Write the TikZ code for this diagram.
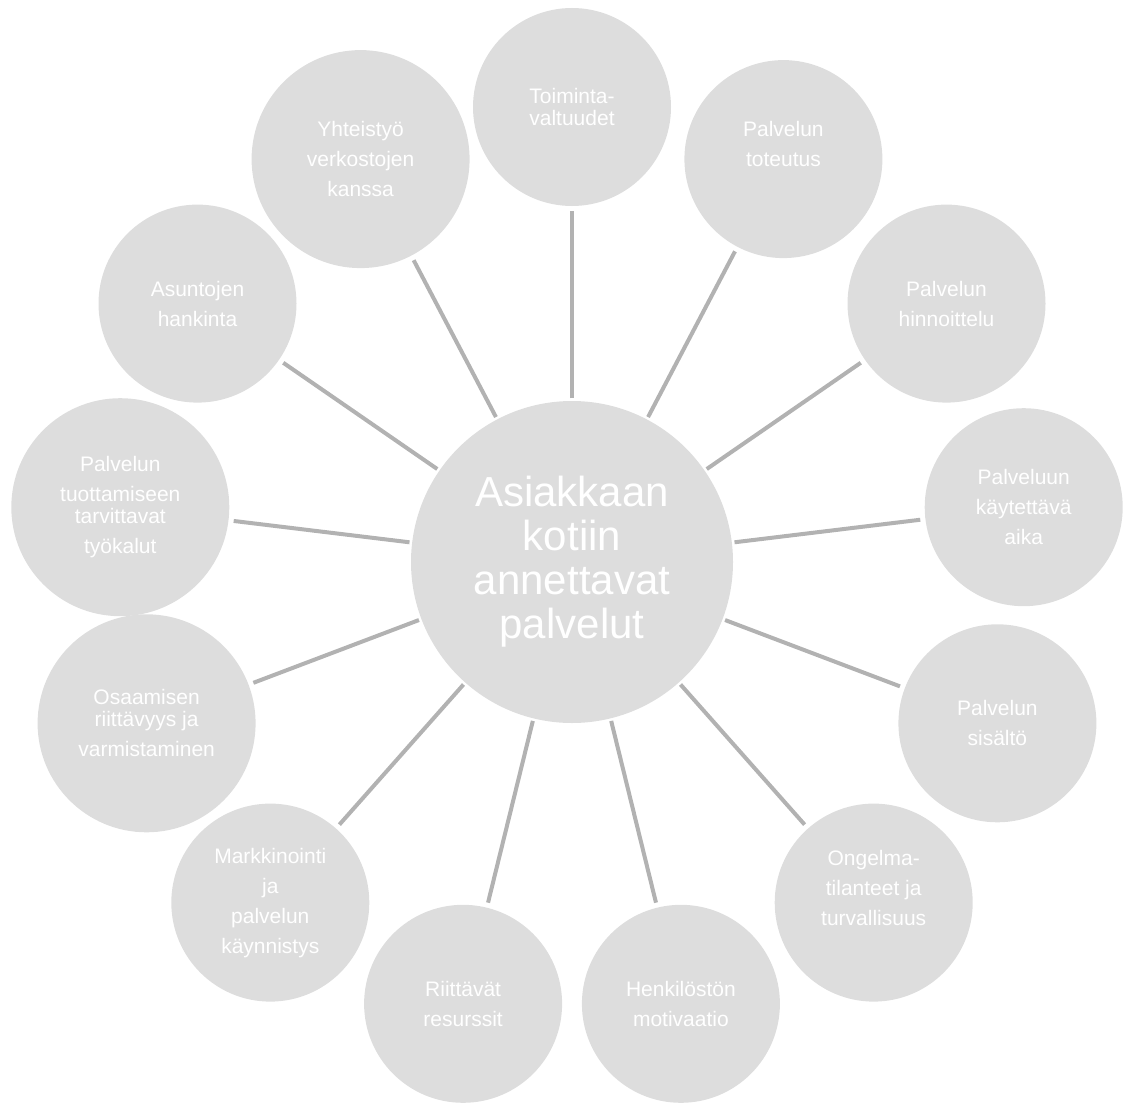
\documentclass[tikz,border=0pt]{standalone}
\usepackage{fontspec}
\setmainfont{Liberation Sans}
\definecolor{circlegray}{RGB}{221,221,221}
\definecolor{linkgray}{RGB}{178,178,178}

\begin{document}
\begin{tikzpicture}[x=1pt,y=-1pt,
  hub/.style={circle,fill=circlegray,text=white,minimum size=322pt,inner sep=0pt,align=center,font=\fontsize{42}{44}\selectfont},
  leaf/.style={circle,fill=circlegray,text=white,minimum size=198pt,inner sep=0pt,align=center,font=\fontsize{21}{30}\selectfont},
  bigleaf/.style={leaf,minimum size=218pt},
  link/.style={draw=linkgray,line width=4pt,shorten <=2.5pt,shorten >=5pt}]

\useasboundingbox (0,0) rectangle (1123,1102);

\node [hub] (v0) at (572,562) {Asiakkaan\\kotiin\\annettavat\\palvelut};

\node [leaf] (v1) at (572,107) {Toiminta-\\[-8pt]valtuudet};
\node [leaf] (v2) at (783.4,159.1) {Palvelun\\toteutus\\\mbox{}};
\node [leaf] (v3) at (946.5,303.6) {Palvelun\\hinnoittelu};
\node [leaf] (v4) at (1023.7,507.2) {Palveluun\\käytettävä\\aika};
\node [leaf] (v5) at (997.4,723.3) {Palvelun\\sisältö};
\node [leaf] (v6) at (873.7,902.6) {Ongelma-\\tilanteet ja\\turvallisuus\\\mbox{}};
\node [leaf] (v7) at (680.9,1003.8) {Henkilöstön\\motivaatio};
\node [leaf] (v8) at (463.1,1003.8) {Riittävät\\resurssit};
\node [leaf] (v9) at (270.3,902.6) {Markkinointi\\ja\\palvelun\\käynnistys};
\node [bigleaf] (v10) at (146.6,723.3) {Osaamisen\\[-8pt]riittävyys ja\\varmistaminen};
\node [bigleaf] (v11) at (120.3,507.2) {Palvelun\\tuottamiseen\\[-8pt]tarvittavat\\työkalut};
\node [leaf] (v12) at (197.5,303.6) {Asuntojen\\hankinta};
\node [bigleaf] (v13) at (360.6,159.1) {Yhteistyö\\verkostojen\\kanssa};

\draw [link] (v0) edge (v1);
\draw [link] (v0) edge (v2);
\draw [link] (v0) edge (v3);
\draw [link] (v0) edge (v4);
\draw [link] (v0) edge (v5);
\draw [link] (v0) edge (v6);
\draw [link] (v0) edge (v7);
\draw [link] (v0) edge (v8);
\draw [link] (v0) edge (v9);
\draw [link] (v0) edge (v10);
\draw [link] (v0) edge (v11);
\draw [link] (v0) edge (v12);
\draw [link] (v0) edge (v13);

\end{tikzpicture}
\end{document}
